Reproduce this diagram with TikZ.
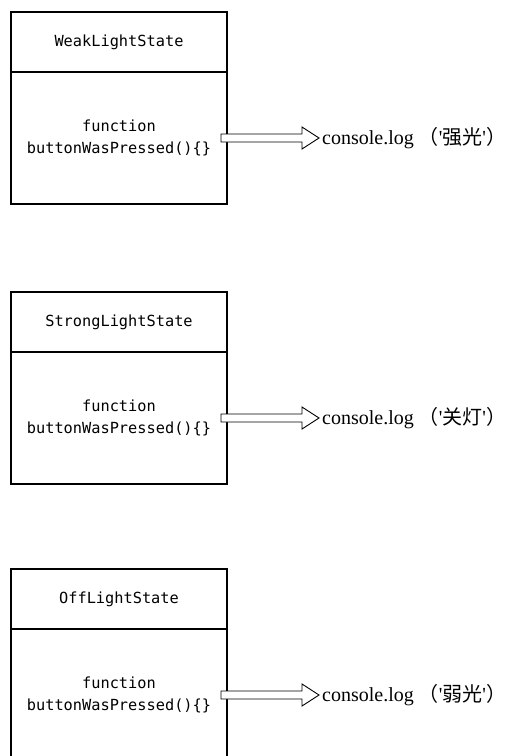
\documentclass[tikz,border=0pt]{standalone}
\usepackage{fontspec}
\setmainfont{Liberation Serif}[Ligatures=TeXOff]
\newfontfamily\codefont{DejaVu Sans Mono}
\newfontfamily\cjk{Noto Sans CJK SC}
\usetikzlibrary{positioning,calc}

% hollow arrow from the right side of a state body to its log text
\newcommand{\fatarrow}[2]{%
  \draw[fat] ($(#1.east)+(-6,-4)$) -- ($(#2.west)+(-20,-4)$) -- ($(#2.west)+(-20,-11)$)
    -- ($(#2.west)+(-3,0)$) -- ($(#2.west)+(-20,11)$) -- ($(#2.west)+(-20,4)$)
    -- ($(#1.east)+(-6,4)$) -- cycle;}

\begin{document}
\begin{tikzpicture}[x=1pt,y=-1pt,node distance=0pt]

\tikzset{head/.style={draw,line width=1.1pt,outer sep=0pt,minimum width=216pt,minimum height=60pt,
           font=\codefont\fontsize{15.3}{22}\selectfont},
         body/.style={head,minimum height=132pt,align=center},
         log/.style={inner sep=0pt,font=\fontsize{20}{24}\selectfont},
         fat/.style={draw,fill=white,line width=0.9pt}}

\clip (0,0) rectangle (510,756);

\node[head] (weak)      at (119,42)               {WeakLightState};
\node[body] (weakfn)    [below=of weak]           {function\\buttonWasPressed()\{\}};
\node[log]  (weaklog)   [right=95pt of weakfn]    {console.log {\cjk（}'{\cjk 强光}'{\cjk）}};

\node[head] (strong)    at (119,322)              {StrongLightState};
\node[body] (strongfn)  [below=of strong]         {function\\buttonWasPressed()\{\}};
\node[log]  (stronglog) [right=95pt of strongfn]  {console.log {\cjk（}'{\cjk 关灯}'{\cjk）}};

\node[head] (off)       at (119,599)              {OffLightState};
\node[body] (offfn)     [below=of off]            {function\\buttonWasPressed()\{\}};
\node[log]  (offlog)    [right=95pt of offfn]     {console.log {\cjk（}'{\cjk 弱光}'{\cjk）}};

\fatarrow{weakfn}{weaklog}
\fatarrow{strongfn}{stronglog}
\fatarrow{offfn}{offlog}

\end{tikzpicture}
\end{document}
